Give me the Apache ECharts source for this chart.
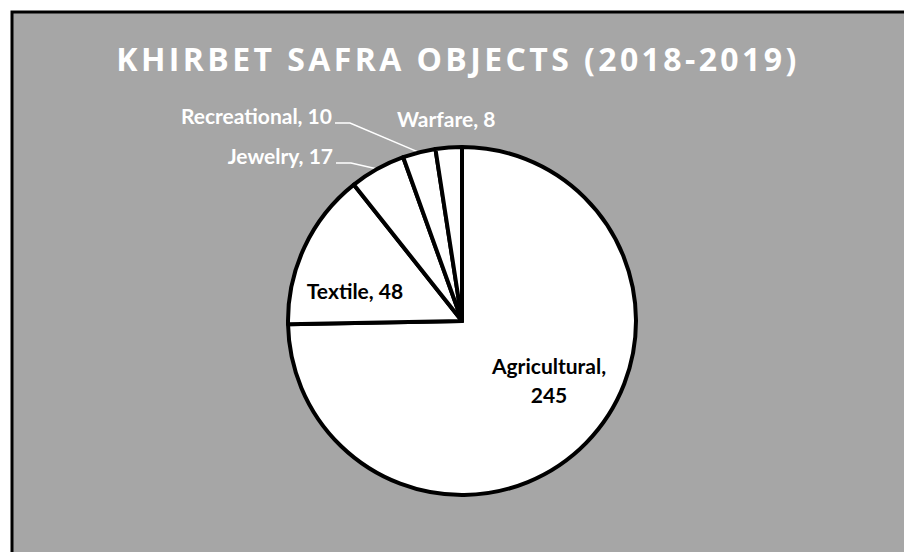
<!DOCTYPE html>
<html><head><meta charset="utf-8">
<script src="https://cdn.jsdelivr.net/npm/echarts@6/dist/echarts.min.js"></script>
<style>html,body{margin:0;padding:0;background:#fff}#c{width:904px;height:552px}
#c text[style*="32px"]{letter-spacing:3.4px}</style>
</head><body><div id="c"></div>
<script>
const titleText = 'KHIRBET SAFRA OBJECTS (2018-2019)';
const categories = ['Agricultural', 'Textile', 'Jewelry', 'Recreational', 'Warfare'];
const values = [245, 48, 17, 10, 8];

// label placement (layout only)
const labelPlace = {
  Agricultural: { cx: 549, cy: 380 },
  Textile: { cx: 355, cy: 290 },
  Jewelry: { right: 333, cy: 155, line: true },
  Recreational: { right: 332, cy: 115, line: true },
  Warfare: { left: 397, cy: 118, line: false }
};
const insideSet = { Agricultural: true, Textile: true };

const data = categories.map((c, i) => {
  const d = { name: c, value: values[i] };
  if (insideSet[c]) {
    d.label = { position: 'inside', color: '#000', formatter: c === 'Agricultural' ? '{b},\n{c}' : '{b}, {c}' };
    d.labelLine = { show: false };
  } else {
    d.label = { position: 'outside', color: '#fff', formatter: '{b}, {c}' };
    d.labelLine = { show: labelPlace[c].line };
  }
  return d;
});

const chart = echarts.init(document.getElementById('c'), null, { renderer: 'svg' });
chart.setOption({
  backgroundColor: '#fff',
  animation: false,
  graphic: [{
    type: 'rect', z: -10,
    shape: { x: 12, y: 12, width: 900, height: 600 },
    style: { fill: '#a6a6a6', stroke: '#000', lineWidth: 3 }
  }],
  title: {
    text: titleText, left: 453, top: 37, textAlign: 'center',
    textStyle: { color: '#fff', fontFamily: 'Open Sans', fontWeight: 'bold', fontSize: 32 }
  },
  series: [{
    type: 'pie',
    center: [462, 321],
    radius: 174,
    startAngle: 90,
    clockwise: true,
    data: data,
    itemStyle: { color: '#fff', borderColor: '#000', borderWidth: 4 },
    label: { fontFamily: 'Lato', fontWeight: 'bold', fontSize: 21, lineHeight: 29, align: 'center' },
    labelLine: { show: true, length: 18, length2: 12, lineStyle: { color: '#fff', width: 1.5 } },
    labelLayout: function (p) {
      const name = categories[p.dataIndex];
      const pl = labelPlace[name];
      const r = p.labelRect;
      let dx, dy;
      dy = pl.cy - (r.y + r.height / 2);
      if (pl.cx !== undefined) dx = pl.cx - (r.x + r.width / 2);
      else if (pl.right !== undefined) dx = pl.right - (r.x + r.width);
      else dx = pl.left - r.x;
      const out = { dx: dx, dy: dy };
      if (pl.line && p.labelLinePoints) {
        const edge = p.labelLinePoints[0];
        const ly = pl.cy + 8;
        out.labelLinePoints = [[edge[0], edge[1]], [pl.right + 18, ly], [pl.right + 3, ly]];
      }
      return out;
    },
    emphasis: { disabled: true }
  }]
});
</script></body></html>
